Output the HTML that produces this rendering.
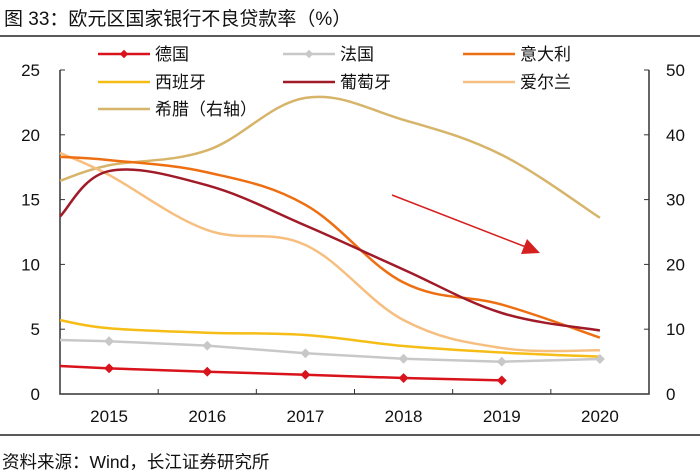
<!DOCTYPE html>
<html><head><meta charset="utf-8"><style>
body{margin:0;background:#fff;}
svg{display:block;font-family:"Liberation Sans","Noto Sans CJK SC",sans-serif;}
</style></head><body>
<svg id="c" width="700" height="473">
<text x="4" y="25" font-size="19" fill="#111">图 33：欧元区国家银行不良贷款率（%）</text>
<line x1="0" y1="36" x2="700" y2="36" stroke="#222" stroke-width="1.5"/>
<line x1="0" y1="435" x2="700" y2="435" stroke="#222" stroke-width="1.5"/>
<text x="2" y="468" font-size="17.5" fill="#111">资料来源：Wind，长江证券研究所</text>
<g id="axes"></g><g id="series"></g><g id="legend"></g>
<line x1="392" y1="195" x2="526" y2="247" stroke="#d62020" stroke-width="1.5"/>
<polygon points="540,253 521,254 527,239" fill="#d62020"/>
</svg>
<script>
const years=["2015","2016","2017","2018","2019","2020"];
const leftTicks=[0,5,10,15,20,25];
const rightTicks=[0,10,20,30,40,50];
// index -0.5 = start at left edge
const germany=[2.16,1.98,1.72,1.49,1.23,1.05,null];
const france=[4.17,4.07,3.73,3.14,2.72,2.49,2.70];
const italy=[18.3,18.05,17.1,14.6,8.6,6.9,4.35];
const spain=[5.7,5.07,4.73,4.55,3.7,3.2,2.88];
const portugal=[13.7,17.2,16.1,13.0,9.6,6.25,4.9];
const ireland=[18.6,16.9,12.65,11.5,5.7,3.55,3.37];
const greece=[32.9,35.3,37.6,45.7,42.3,36.9,27.2];
const NS="http://www.w3.org/2000/svg";
const L=60,R=649,T=70,B=394,cw=(R-L)/6;
function X(i){return L+cw*(i+0.5);}
function YL(v){return B-(v/25)*(B-T);}
function YR(v){return B-(v/50)*(B-T);}
function mk(t,a,p){const e=document.createElementNS(NS,t);for(const k in a)e.setAttribute(k,a[k]);p.appendChild(e);return e;}
const ax=document.getElementById('axes');
let e=mk('path',{d:`M${L},${T}V${B}H${R}V${T}`,fill:'none',stroke:'#333','stroke-width':1.5},ax);


leftTicks.forEach(v=>{
 let t=mk('line',{x1:L,x2:L+5,y1:YL(v),y2:YL(v),stroke:'#333'},ax);
 
 
 let s=mk('text',{x:40,y:YL(v)+6,'text-anchor':'end','font-size':17,fill:'#111'},ax);s.textContent=v;
 
 
});
rightTicks.forEach(v=>{
 let t=mk('line',{x1:R-5,x2:R,y1:YR(v),y2:YR(v),stroke:'#333'},ax);
 
 
 let s=mk('text',{x:666,y:YR(v)+6,'font-size':17,fill:'#111'},ax);s.textContent=v;
 
 
});
years.forEach((y,i)=>{
 if(i>0){let t=mk('line',{x1:L+cw*i,x2:L+cw*i,y1:B,y2:B-5,stroke:'#333'},ax);
 
 }
 let s=mk('text',{x:X(i),y:422,'text-anchor':'middle','font-size':17,fill:'#111'},ax);s.textContent=y;
 
 
});
function smooth(pts){
 let d=`M${pts[0][0]},${pts[0][1]}`;
 for(let i=0;i<pts.length-1;i++){
  const p0=pts[Math.max(0,i-1)],p1=pts[i],p2=pts[i+1],p3=pts[Math.min(pts.length-1,i+2)];
  const k=0.18;
  d+=` C${p1[0]+(p2[0]-p0[0])*k},${p1[1]+(p2[1]-p0[1])*k} ${p2[0]-(p3[0]-p1[0])*k},${p2[1]-(p3[1]-p1[1])*k} ${p2[0]},${p2[1]}`;
 }return d;}
const sg=document.getElementById('series');
function draw(vals,yf,color,name,marker,curve){
 const pts=[];vals.forEach((v,j)=>{if(v!==null)pts.push([j===0?L:X(j-1),yf(v)]);});
 let d=curve?smooth(pts):'M'+pts.map(p=>p.join(',')).join('L');
 let p=mk('path',{d:d,fill:'none',stroke:color,'stroke-width':2.5},sg);
 
 
 if(marker)pts.slice(1).forEach(q=>{
  let m=mk('rect',{x:q[0]-3.5,y:q[1]-3.5,width:7,height:7,fill:color,transform:`rotate(45 ${q[0]} ${q[1]})`},sg);
  
  
 });
}
draw(greece,YR,'#d6b46a','greece',false,true);
draw(ireland,YL,'#f6bf80','ireland',false,true);
draw(spain,YL,'#f6bd16','spain',false,true);
draw(france,YL,'#c8c8c8','france',true,false);
draw(italy,YL,'#ee6f12','italy',false,true);
draw(portugal,YL,'#a01a28','portugal',false,true);
draw(germany,YL,'#d8131b','germany',true,false);
const lg=document.getElementById('legend');
const items=[["德国",'#d8131b',true,98,54],["法国",'#c8c8c8',true,283,54],["意大利",'#ee6f12',false,463,54],
["西班牙",'#f6bd16',false,98,82],["葡萄牙",'#a01a28',false,283,82],["爱尔兰",'#f6bf80',false,463,82],["希腊（右轴）",'#d6b46a',false,98,109]];
items.forEach(it=>{
 const g=mk('g',{},lg);
 
 
 mk('line',{x1:it[3],x2:it[3]+52,y1:it[4],y2:it[4],stroke:it[1],'stroke-width':2.5},g);
 if(it[2])mk('rect',{x:it[3]+23,y:it[4]-3,width:6,height:6,fill:it[1],transform:`rotate(45 ${it[3]+26} ${it[4]})`},g);
 const t=mk('text',{x:it[3]+57,y:it[4]+6,'font-size':17,fill:'#111'},g);t.textContent=it[0];
});
</script>
</body></html>
